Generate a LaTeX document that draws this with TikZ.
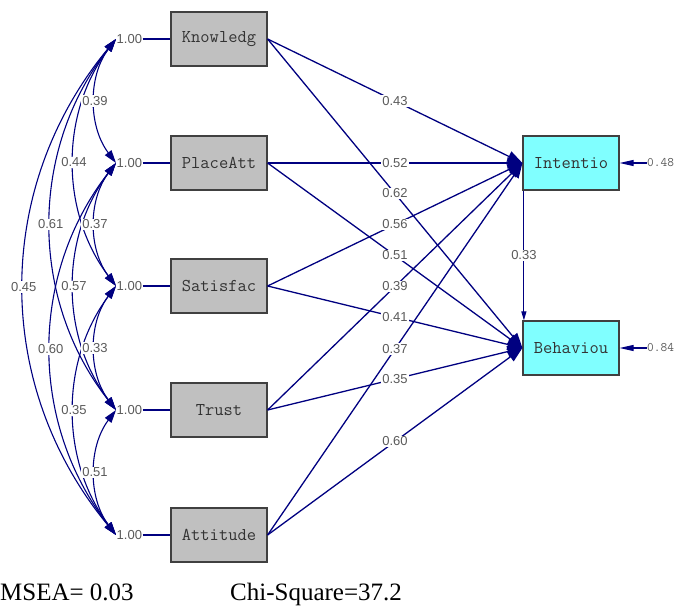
\documentclass[tikz,border=0pt]{standalone}
\usepackage{fontspec}
\newfontfamily\coeffont{Liberation Sans}
\newfontfamily\fitfont{Liberation Serif}
\usetikzlibrary{arrows.meta}
\definecolor{pathnavy}{HTML}{000080}
\definecolor{obsgray}{HTML}{C0C0C0}
\definecolor{latcyan}{HTML}{80FFFF}
\definecolor{edgegray}{HTML}{404040}
\definecolor{numgray}{HTML}{5A5A5A}
\begin{document}
\begin{tikzpicture}[x=1pt,y=-1pt,
  obsbox/.style={draw=edgegray,line width=1.2pt,fill=obsgray,minimum width=96pt,minimum height=54pt,inner sep=0pt,text=black!80,font=\ttfamily\fontsize{18}{18}\selectfont},
  endbox/.style={obsbox,fill=latcyan},
  coef/.style={fill=white,inner sep=1pt,text=numgray,font=\coeffont\fontsize{13}{14}\selectfont},
  varlbl/.style={anchor=west,inner sep=0.5pt,text=numgray,font=\coeffont\fontsize{13}{14}\selectfont},
  errlbl/.style={anchor=west,inner sep=0pt,text=numgray,font=\ttfamily\fontsize{13}{14}\selectfont},
  fitlbl/.style={anchor=base west,inner sep=0pt,font=\fitfont\fontsize{25}{25}\selectfont},
  navyline/.style={pathnavy,line width=1.1pt},
  covline/.style={navyline,{Triangle[length=13pt,width=8pt]}-{Triangle[length=13pt,width=8pt]}},
  pathline/.style={pathnavy,line width=1.3pt,-{Triangle[length=15pt,width=11pt]}},
  errline/.style={navyline,-{Triangle[length=14pt,width=6pt]}}]
  \useasboundingbox (0,0) rectangle (675,607);
  % observed variables
  \node[obsbox] (K) at (219,39) {Knowledg};
  \node[obsbox] (P) at (219,163) {PlaceAtt};
  \node[obsbox] (S) at (219,286) {Satisfac};
  \node[obsbox] (T) at (219,410) {Trust};
  \node[obsbox] (A) at (219,535) {Attitude};
  \node[endbox] (I) at (571,163) {Intentio};
  \node[endbox] (B) at (571,348) {Behaviou};
  % variances
  \coordinate (vK) at (116,39);  \node[varlbl] (nK) at (vK) {1.00}; \draw[navyline] (nK.east) -- (K.west);
  \coordinate (vP) at (116,163); \node[varlbl] (nP) at (vP) {1.00}; \draw[navyline] (nP.east) -- (P.west);
  \coordinate (vS) at (116,286); \node[varlbl] (nS) at (vS) {1.00}; \draw[navyline] (nS.east) -- (S.west);
  \coordinate (vT) at (116,410); \node[varlbl] (nT) at (vT) {1.00}; \draw[navyline] (nT.east) -- (T.west);
  \coordinate (vA) at (116,535); \node[varlbl] (nA) at (vA) {1.00}; \draw[navyline] (nA.east) -- (A.west);
  % covariances
  \draw[covline] (vK) .. controls (-7,188) and (-7,386) .. (vA) node[coef,pos=0.5] {0.45};
  \draw[covline] (vK) .. controls (29,150) and (29,299) .. (vT) node[coef,pos=0.5] {0.61};
  \draw[covline] (vP) .. controls (29,275) and (29,423) .. (vA) node[coef,pos=0.5] {0.60};
  \draw[covline] (vK) .. controls (60,113) and (60,212) .. (vS) node[coef,pos=0.5] {0.44};
  \draw[covline] (vP) .. controls (60,237) and (60,336) .. (vT) node[coef,pos=0.5] {0.57};
  \draw[covline] (vS) .. controls (60,361) and (60,460) .. (vA) node[coef,pos=0.5] {0.35};
  \draw[covline] (vK) .. controls (88,76) and (88,126) .. (vP) node[coef,pos=0.5] {0.39};
  \draw[covline] (vP) .. controls (88,200) and (88,249) .. (vS) node[coef,pos=0.5] {0.37};
  \draw[covline] (vS) .. controls (88,323) and (88,373) .. (vT) node[coef,pos=0.5] {0.33};
  \draw[covline] (vT) .. controls (88,447) and (88,498) .. (vA) node[coef,pos=0.5] {0.51};
  % paths
  \draw[pathline] (K.east) -- (I.west) node[coef,midway] {0.43};
  \draw[pathline] (P.east) -- (I.west) node[coef,midway] {0.52};
  \draw[pathline] (K.east) -- (B.west) node[coef,midway] {0.62};
  \draw[pathline] (S.east) -- (I.west) node[coef,midway] {0.56};
  \draw[pathline] (P.east) -- (B.west) node[coef,midway] {0.51};
  \draw[pathline] (T.east) -- (I.west) node[coef,midway] {0.39};
  \draw[pathline] (S.east) -- (B.west) node[coef,midway] {0.41};
  \draw[pathline] (A.east) -- (I.west) node[coef,midway] {0.37};
  \draw[pathline] (T.east) -- (B.west) node[coef,midway] {0.35};
  \draw[pathline] (A.east) -- (B.west) node[coef,midway] {0.60};
  \draw[navyline,-{Triangle[length=9pt,width=5pt]}] ([xshift=1.5pt]I.south west) -- ([xshift=1.5pt]B.north west) node[coef,midway] {0.33};
  % errors
  \node[errlbl] (eI) at (647,163) {0.48};
  \node[errlbl] (eB) at (647,348) {0.84};
  \draw[errline] (eI.west) -- (I.east);
  \draw[errline] (eB.west) -- (B.east);
  % fit
  \node[fitlbl] (rmsea) at (0,600) {MSEA= 0.03};
  \node[fitlbl] (chisq) at (230,600) {Chi-Square=37.2};
\end{tikzpicture}
\end{document}
